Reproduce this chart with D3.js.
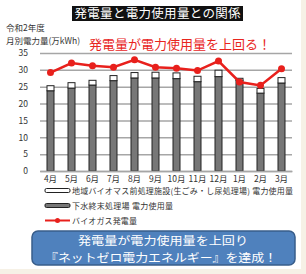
<!DOCTYPE html>
<html lang="ja">
  <head>
    <meta charset="UTF-8">
    <title>発電量と電力使用量との関係</title>
    <script src="https://d3js.org/d3.v7.min.js"></script>
    <style>
      body { margin: 0; background: #fff; }
      svg { display: block; font-family: "Noto Sans CJK JP", sans-serif; }
    </style>
  </head>
  <body>

<script>
  const months = ["4月","5月","6月","7月","8月","9月","10月","11月","12月","1月","2月","3月"];
  // 下水終末処理場 電力使用量
  const sewage = [23.8, 24.6, 25.5, 26.8, 27.6, 27.6, 27.4, 26.5, 28.0, 26.9, 23.1, 26.1];
  // 地域バイオマス前処理施設 電力使用量
  const biomass = [1.5, 1.6, 1.4, 1.5, 1.6, 1.7, 1.7, 1.6, 1.9, 0.6, 1.4, 1.6];
  // バイオガス発電量
  const biogas = [29.2, 32.0, 31.2, 30.8, 33.0, 30.8, 30.5, 29.8, 32.6, 26.4, 25.4, 30.3];
  const yTicks = [0, 5, 10, 15, 20, 25, 30, 35];

  const w = 306;
  const h = 274;

  const xScale = d3.scaleBand()
                   .domain(months)
                   .range([40, 292]);

  const yScale = d3.scaleLinear()
                   .domain([0, 35])
                   .range([171, 53]);

  const svg = d3.select("body")
                .append("svg")
                .attr("width", w)
                .attr("height", h);

  // faint frame
  svg.append("rect")
     .attr("x", 0).attr("y", 0)
     .attr("width", w).attr("height", h)
     .attr("fill", "#f6f1e6");
  svg.append("rect")
     .attr("x", 0).attr("y", 0)
     .attr("width", 301).attr("height", 269)
     .attr("fill", "#fff");

  // title
  svg.append("rect")
     .attr("x", 72).attr("y", 6)
     .attr("width", 171).attr("height", 15)
     .attr("fill", "#111");
  svg.append("text")
     .attr("x", 157.5).attr("y", 18)
     .attr("text-anchor", "middle")
     .attr("font-size", 12.5)
     .attr("textLength", 166)
     .attr("fill", "#fff")
     .text("発電量と電力使用量との関係");

  svg.append("text")
     .attr("x", 6).attr("y", 31)
     .attr("font-size", 8.5)
     .attr("fill", "#333")
     .text("令和2年度");
  svg.append("text")
     .attr("x", 6).attr("y", 44)
     .attr("font-size", 8.5)
     .attr("fill", "#333")
     .text("月別電力量(万kWh)");

  svg.append("text")
     .attr("x", 180).attr("y", 49)
     .attr("text-anchor", "middle")
     .attr("font-size", 13)
     .attr("fill", "#e8261e")
     .text("発電量が電力使用量を上回る！");

  // grid + y axis
  const yAxis = d3.axisLeft(yScale)
                  .tickValues(yTicks)
                  .tickSize(-252)
                  .tickPadding(12);
  const gy = svg.append("g")
                .attr("transform", "translate(40,0)")
                .call(yAxis);
  gy.select(".domain").remove();
  gy.selectAll("line").attr("stroke", "#a6a6a6").attr("stroke-width", 1.5);
  gy.selectAll("text")
    .attr("font-size", 8.5)
    .attr("fill", "#333")
    .attr("font-family", "'Noto Sans CJK JP', sans-serif");

  // bars
  const bw = 7;
  const bars = svg.append("g");
  bars.selectAll(".sewage")
      .data(months)
      .enter()
      .append("rect")
      .attr("x", (d) => xScale(d) + xScale.bandwidth() / 2 - bw / 2)
      .attr("y", (d, i) => yScale(sewage[i]))
      .attr("width", bw)
      .attr("height", (d, i) => yScale(0) - yScale(sewage[i]))
      .attr("fill", "#777")
      .attr("stroke", "#222")
      .attr("stroke-width", 1);
  bars.selectAll(".biomass")
      .data(months)
      .enter()
      .append("rect")
      .attr("x", (d) => xScale(d) + xScale.bandwidth() / 2 - bw / 2)
      .attr("y", (d, i) => yScale(sewage[i] + biomass[i]))
      .attr("width", bw)
      .attr("height", (d, i) => yScale(sewage[i]) - yScale(sewage[i] + biomass[i]))
      .attr("fill", "#fff")
      .attr("stroke", "#222")
      .attr("stroke-width", 1);

  // x axis
  const xAxis = d3.axisBottom(xScale).tickSize(0).tickPadding(5);
  const gx = svg.append("g")
                .attr("transform", "translate(0,171)")
                .call(xAxis);
  gx.select(".domain").attr("stroke", "#a6a6a6").attr("stroke-width", 1.5);
  gx.selectAll("text")
    .attr("font-size", 8.5)
    .attr("fill", "#333")
    .attr("font-family", "'Noto Sans CJK JP', sans-serif");

  // line
  const line = d3.line()
                 .x((d, i) => xScale(months[i]) + xScale.bandwidth() / 2)
                 .y((d) => yScale(d));
  svg.append("path")
     .datum(biogas)
     .attr("d", line)
     .attr("fill", "none")
     .attr("stroke", "#e8201c")
     .attr("stroke-width", 2.5);
  svg.selectAll(".pt")
     .data(biogas)
     .enter()
     .append("circle")
     .attr("cx", (d, i) => xScale(months[i]) + xScale.bandwidth() / 2)
     .attr("cy", (d) => yScale(d))
     .attr("r", 3.5)
     .attr("fill", "#e8201c");

  // legend
  const legend = [
    { label: "地域バイオマス前処理施設(生ごみ・し尿処理場) 電力使用量", type: "white", len: 221 },
    { label: "下水終末処理場 電力使用量", type: "gray", len: 101 },
    { label: "バイオガス発電量", type: "line", len: 65 }
  ];
  const lg = svg.selectAll(".lg")
                .data(legend)
                .enter()
                .append("g")
                .attr("transform", (d, i) => `translate(45, ${190.5 + i * 15})`);
  lg.filter((d) => d.type !== "line")
    .append("rect")
    .attr("x", 0).attr("y", -2)
    .attr("width", 25).attr("height", 4)
    .attr("rx", 1.5)
    .attr("fill", (d) => d.type === "white" ? "#fff" : "#777")
    .attr("stroke", "#222")
    .attr("stroke-width", 1);
  lg.filter((d) => d.type === "line")
    .append("line")
    .attr("x1", 0).attr("x2", 25)
    .attr("stroke", "#e8201c")
    .attr("stroke-width", 2);
  lg.filter((d) => d.type === "line")
    .append("circle")
    .attr("cx", 12.5).attr("r", 2.5)
    .attr("fill", "#e8201c");
  lg.append("text")
    .attr("x", 27).attr("y", 3)
    .attr("font-size", 8)
    .attr("textLength", (d) => d.len)
    .attr("fill", "#333")
    .text((d) => d.label);

  // banner
  svg.append("rect")
     .attr("x", 32).attr("y", 231)
     .attr("width", 263).attr("height", 34)
     .attr("rx", 6)
     .attr("fill", "#4f81bd")
     .attr("stroke", "#385d8a")
     .attr("stroke-width", 1.5);
  svg.append("text")
     .attr("x", 163).attr("y", 245)
     .attr("text-anchor", "middle")
     .attr("font-size", 11.5)
     .attr("textLength", 170)
     .attr("lengthAdjust", "spacingAndGlyphs")
     .attr("fill", "#fff")
     .text("発電量が電力使用量を上回り");
  svg.append("text")
     .attr("x", 161).attr("y", 262)
     .attr("text-anchor", "middle")
     .attr("font-size", 11.5)
     .attr("textLength", 232)
     .attr("lengthAdjust", "spacingAndGlyphs")
     .attr("fill", "#fff")
     .text("『ネットゼロ電力エネルギー』を達成！");
</script>

  </body>
</html>
